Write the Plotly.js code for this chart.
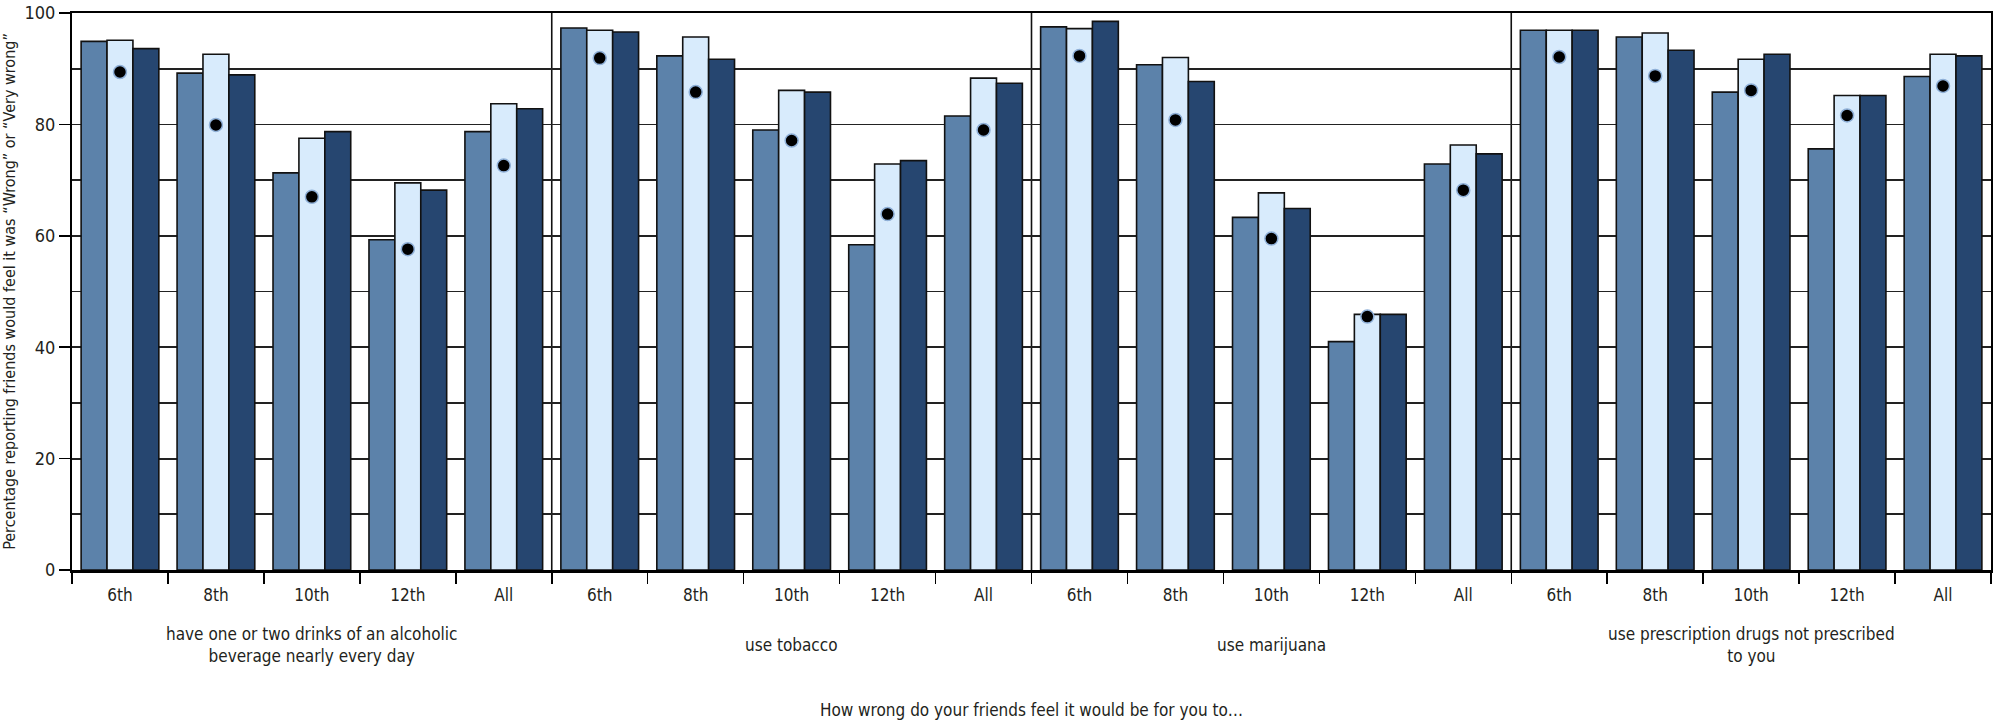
<!DOCTYPE html>
<html><head><meta charset="utf-8">
<script src="https://cdn.plot.ly/plotly-3.0.1.min.js"></script>
<style>html,body{margin:0;padding:0;background:#fff;}#chart{width:1999px;height:726px;}</style>
</head><body><div id="chart"></div>
<script>
const groupLabels = [
  "have one or two drinks of an alcoholic<br>beverage nearly every day",
  "use tobacco",
  "use marijuana",
  "use prescription drugs not prescribed<br>to you"
];
const grades = ["6th", "8th", "10th", "12th", "All"];

const seriesA = [94.9, 89.2, 71.3, 59.3, 78.7,  97.3, 92.3, 79.0, 58.4, 81.5,  97.5, 90.7, 63.3, 41.0, 72.9,  96.9, 95.7, 85.8, 75.6, 88.6];
const seriesB = [95.1, 92.6, 77.5, 69.5, 83.7,  96.9, 95.7, 86.1, 72.9, 88.3,  97.2, 92.0, 67.7, 45.9, 76.3,  96.9, 96.4, 91.7, 85.2, 92.6];
const seriesC = [93.6, 88.9, 78.7, 68.2, 82.8,  96.6, 91.7, 85.8, 73.5, 87.4,  98.5, 87.7, 64.9, 45.9, 74.7,  96.9, 93.3, 92.6, 85.2, 92.3];
const comparison = [89.4, 79.9, 67.0, 57.6, 72.6,  91.9, 85.8, 77.1, 63.9, 79.0,  92.3, 80.8, 59.5, 45.5, 68.2,  92.1, 88.7, 86.1, 81.6, 86.9];

const FONT = '"Liberation Sans Narrow", "DejaVu Sans Condensed", "Arial Narrow", sans-serif';
const TXT = '#231f20';

const xs = [], tickText = [];
groupLabels.forEach((g, gi) => grades.forEach((gr, ri) => { xs.push(gi * grades.length + ri); tickText.push(gr); }));
const boundaries = [];
for (let i = 0; i <= xs.length; i++) boundaries.push(i - 0.5);

const barLine = {color: '#111', width: 1.6};
const traces = [
  {type: 'bar', name: 'Series A', x: xs, y: seriesA, marker: {color: '#5c82aa', line: barLine}},
  {type: 'bar', name: 'Series B', x: xs, y: seriesB, marker: {color: '#d8ebfc', line: barLine}},
  {type: 'bar', name: 'Series C', x: xs, y: seriesC, marker: {color: '#264670', line: barLine}},
  {type: 'scatter', mode: 'markers', name: 'Comparison', x: xs, y: comparison,
   marker: {color: '#000', size: 13, line: {color: '#8fb0d8', width: 1.5}}}
];

const shapes = [1, 2, 3].map(k => ({
  type: 'line', xref: 'x', yref: 'paper', x0: k * grades.length - 0.5, x1: k * grades.length - 0.5,
  y0: 0, y1: 1, line: {color: '#111', width: 1.6}, layer: 'below'
}));

const annotations = groupLabels.map((g, gi) => ({
  text: g, xref: 'x', yref: 'paper', x: gi * grades.length + (grades.length - 1) / 2, y: -0.135,
  yanchor: 'middle', xanchor: 'center', showarrow: false, align: 'center',
  font: {family: FONT, size: 17, color: TXT}
}));

const layout = {
  width: 1999, height: 726,
  margin: {l: 72, r: 8, t: 13, b: 156},
  paper_bgcolor: '#fff', plot_bgcolor: '#fff',
  showlegend: false,
  barmode: 'group', bargap: 0.19, bargroupgap: 0,
  font: {family: FONT, size: 17, color: TXT},
  xaxis: {
    range: [-0.5, xs.length - 0.5], tickmode: 'array', tickvals: xs, ticktext: tickText,
    ticks: 'outside', ticklen: 0, ticklabelstandoff: 8, showgrid: false, zeroline: false,
    showline: true, linecolor: '#000', linewidth: 2.5, mirror: true,
    minor: {tickmode: 'array', tickvals: boundaries, ticks: 'outside', ticklen: 11, tickwidth: 1.5, tickcolor: '#000', showgrid: false},
    tickfont: {family: FONT, size: 17, color: TXT},
    title: {text: 'How wrong do your friends feel it would be for you to…', font: {family: FONT, size: 17, color: TXT}, standoff: 100}
  },
  yaxis: {
    range: [0, 100], tickmode: 'linear', tick0: 0, dtick: 20,
    ticks: 'outside', ticklen: 11, tickwidth: 1.5, tickcolor: '#000',
    showgrid: true, gridcolor: '#222', gridwidth: 1.8, zeroline: false,
    minor: {tickmode: 'linear', tick0: 0, dtick: 10, showgrid: true, gridcolor: '#222', gridwidth: 1.8, ticks: ''},
    showline: true, linecolor: '#000', linewidth: 2, mirror: true,
    tickfont: {family: FONT, size: 18, color: TXT},
    title: {text: 'Percentage reporting friends would feel it was “Wrong” or “Very wrong”', font: {family: FONT, size: 16, color: TXT}, standoff: 16}
  },
  shapes: shapes,
  annotations: annotations
};

Plotly.newPlot('chart', traces, layout, {displayModeBar: false, staticPlot: true});
</script>
</body></html>
